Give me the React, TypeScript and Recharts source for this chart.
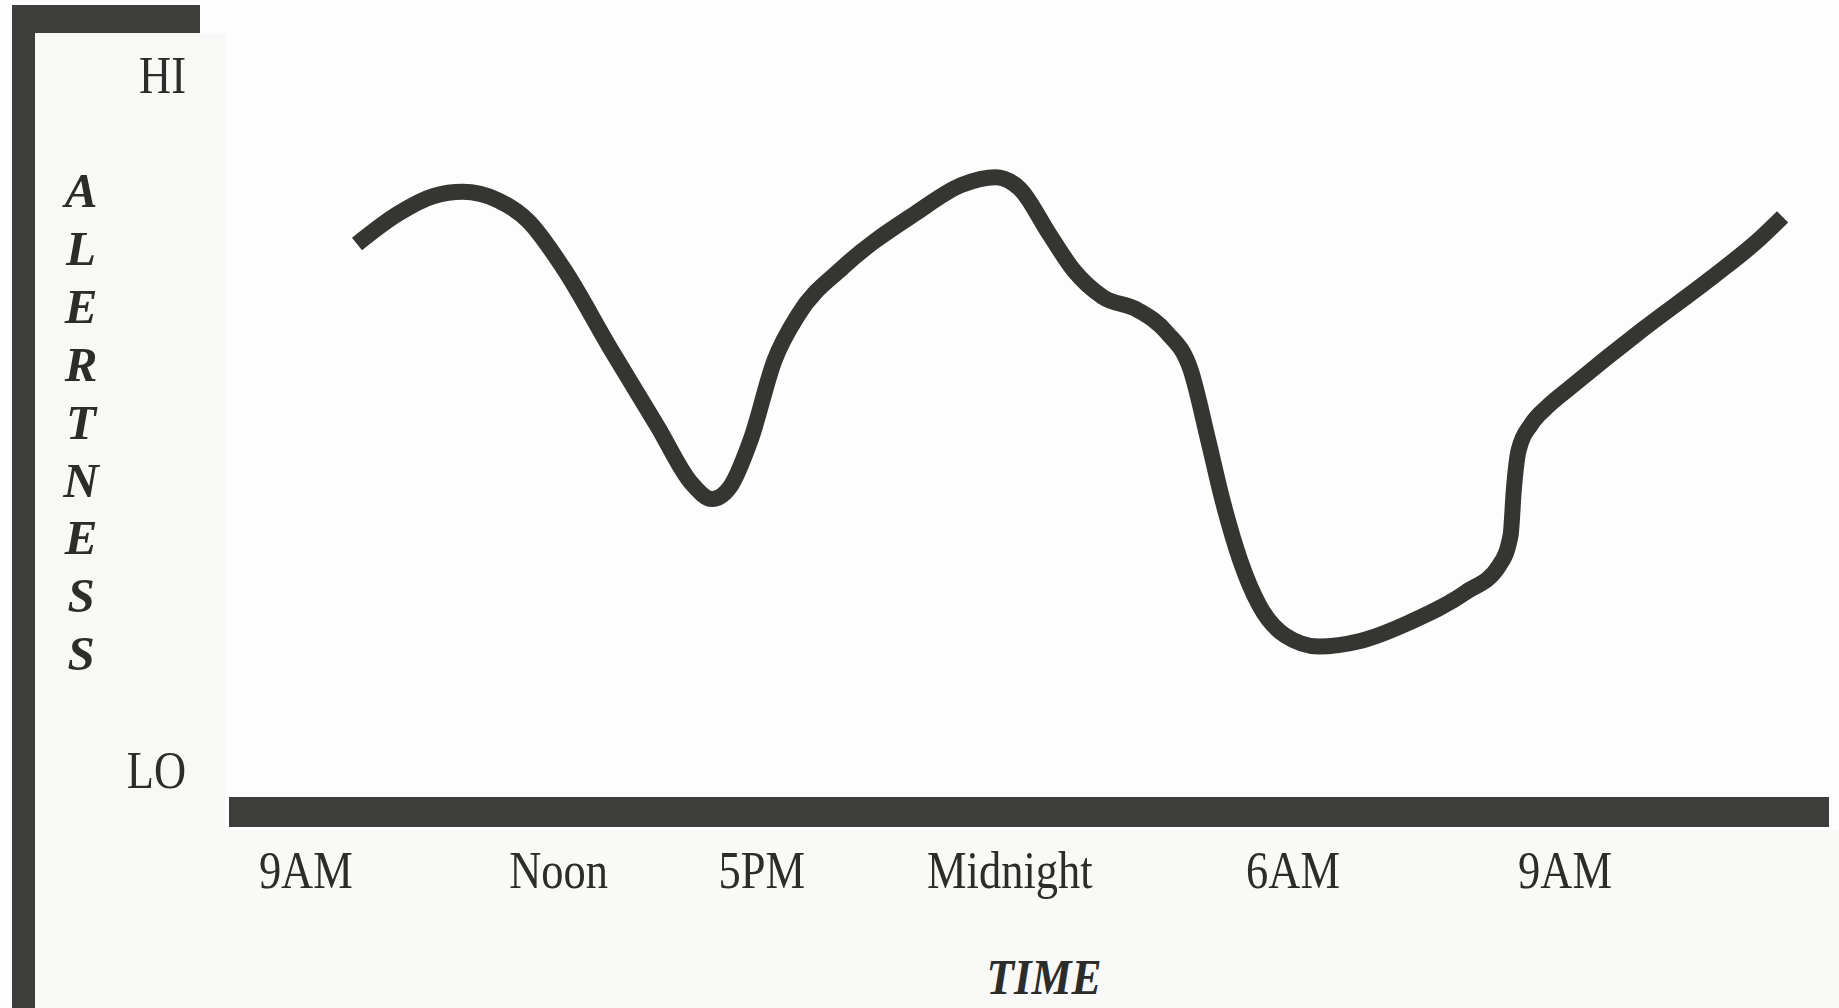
import React from 'react';
import { LineChart, Line, XAxis, YAxis, Label } from 'recharts';

// position along the time axis (0 = left end of the axis bar, 100 = right end)
const timePositions = [4.8, 20.6, 33.3, 48.8, 66.5, 83.5];
const timeLabels = ['9AM', 'Noon', '5PM', 'Midnight', '6AM', '9AM'];

// alertness scale: 0 = LO, 100 = HI
const levelTicks = [0, 100];
const levelLabels = ['LO', 'HI'];

// the curve
const curveX = [
  8.0, 10.6, 12.8, 14.6, 16.8, 18.7, 20.9, 23.8, 26.8, 28.9, 30.2, 31.3, 32.6, 34.1, 35.6, 38.4,
  42.9, 45.8, 47.9, 49.4, 51.3, 52.8, 54.6, 56.8, 58.6, 60.1, 61.2, 62.1, 63.2, 64.4, 66.0, 68.1,
  70.7, 73.8, 77.3, 79.4, 80.1, 80.3, 80.6, 81.4, 82.4, 83.8, 88.3, 92.7, 95.7, 97.1,
];
const alertness = [
  75.7, 80.1, 82.6, 83.2, 82.0, 79.0, 72.2, 60.8, 49.4, 41.3, 39.0, 40.7, 47.5, 59.0, 65.6, 72.4,
  80.1, 84.2, 85.3, 83.7, 77.0, 71.9, 68.1, 66.2, 63.0, 57.6, 47.5, 38.8, 30.2, 23.7, 19.4, 17.8,
  18.6, 21.3, 25.6, 29.5, 33.8, 40.3, 46.0, 49.8, 52.3, 55.0, 63.3, 70.9, 76.5, 79.6,
];

const yLabel = 'ALERTNESS';
const xLabel = 'TIME';

const data = curveX.map((x, i) => ({ x, level: alertness[i] }));

const INK = '#2c2c2a';
const BAR = '#3d3d3b';
const SERIF = "'Liberation Serif', 'Times New Roman', serif";
const SQUEEZE = 0.855;

const TimeTick = (props: any) => {
  const { x, y, payload } = props;
  const label = timeLabels[timePositions.indexOf(payload.value)];
  return (
    <text
      transform={`translate(${x},${y + 76}) scale(${SQUEEZE},1)`}
      textAnchor="middle"
      fontFamily={SERIF}
      fontSize={52}
      fill={INK}
    >
      {label}
    </text>
  );
};

const LevelTick = (props: any) => {
  const { x, y, payload } = props;
  const label = levelLabels[levelTicks.indexOf(payload.value)];
  return (
    <text
      transform={`translate(${x},${y + 18}) scale(${SQUEEZE},1)`}
      textAnchor="end"
      fontFamily={SERIF}
      fontSize={52}
      fill={INK}
    >
      {label}
    </text>
  );
};

const AlertnessLabel = (props: any) => {
  const vb = props.viewBox || { x: 0, y: 75 };
  return (
    <g>
      {yLabel.split('').map((ch, i) => (
        <text
          key={i}
          transform={`translate(${vb.x + 81},${vb.y + 132 + i * 57.9})`}
          textAnchor="middle"
          fontFamily={SERIF}
          fontSize={49}
          fontWeight="bold"
          fontStyle="italic"
          fill={INK}
        >
          {ch}
        </text>
      ))}
    </g>
  );
};

const TimeLabel = (props: any) => {
  const vb = props.viewBox || { x: 229, y: 812, width: 1600 };
  return (
    <text
      transform={`translate(${vb.x + vb.width / 2 + 15},${vb.y + 182}) scale(0.9,1)`}
      textAnchor="middle"
      fontFamily={SERIF}
      fontSize={50}
      fontWeight="bold"
      fontStyle="italic"
      fill={INK}
    >
      {xLabel}
    </text>
  );
};

export default function App() {
  return (
    <div style={{ position: 'relative', width: 1839, height: 1008, overflow: 'hidden', background: '#fdfdfd' }}>
      <style>{'body { margin: 0; }'}</style>
      {/* faint paper texture left of and below the plot */}
      <div style={{ position: 'absolute', left: 35, top: 33, width: 190, height: 975, background: '#f8f8f7' }} />
      <div style={{ position: 'absolute', left: 35, top: 830, width: 1804, height: 178, background: '#f9f9f8' }} />

      <div style={{ position: 'absolute', left: 0, top: 0 }}>
        <LineChart width={1839} height={1008} data={data} margin={{ top: 75, right: 10, bottom: 0, left: 0 }}>
          <XAxis
            type="number"
            dataKey="x"
            domain={[0, 100]}
            ticks={timePositions}
            interval={0}
            tick={<TimeTick />}
            tickLine={false}
            tickSize={0}
            tickMargin={0}
            height={196}
            axisLine={{ stroke: BAR, strokeWidth: 30 }}
          >
            <Label content={<TimeLabel />} />
          </XAxis>
          <YAxis
            type="number"
            domain={[-6, 100]}
            ticks={levelTicks}
            interval={0}
            tick={<LevelTick />}
            tickLine={false}
            tickSize={0}
            tickMargin={43}
            width={229}
            axisLine={false}
          >
            <Label content={<AlertnessLabel />} />
          </YAxis>
          <Line
            type="monotone"
            dataKey="level"
            stroke="#353532"
            strokeWidth={16}
            dot={false}
            activeDot={false}
            isAnimationActive={false}
          />
        </LineChart>
      </div>

      {/* L-shaped frame at the top left */}
      <div style={{ position: 'absolute', left: 12, top: 5, width: 23, height: 1003, background: BAR }} />
      <div style={{ position: 'absolute', left: 12, top: 5, width: 188, height: 28, background: BAR }} />
    </div>
  );
}
